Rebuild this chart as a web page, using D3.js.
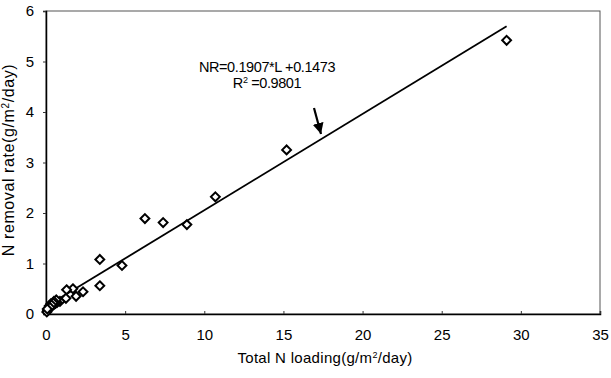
<!DOCTYPE html>
<html>
<head>
<meta charset="utf-8">
<script src="https://cdn.jsdelivr.net/npm/d3@7"></script>
<style>
  body { margin: 0; background: #fff; }
  text { font-family: "Liberation Sans", Arial, sans-serif; fill: #000; }
</style>
</head>
<body>
<script>
// Measured points: total N loading vs N removal rate
const loading = [29.1, 15.2, 10.7, 8.9, 7.4, 6.25, 4.8, 3.4, 3.4, 2.34, 1.9, 1.7, 1.3, 1.26,
  0.88, 0.7, 0.6, 0.5, 0.4, 0.3, 0.2, 0.15, 0.1, 0.05, 0.65, 0.5, 0.3, 0.2, 0.45, 0.35, 0.25, 0.08];
const removal = [5.42, 3.25, 2.32, 1.77, 1.81, 1.89, 0.96, 1.08, 0.56, 0.44, 0.35, 0.5, 0.48, 0.31,
  0.25, 0.23, 0.21, 0.19, 0.17, 0.14, 0.11, 0.09, 0.07, 0.04, 0.28, 0.25, 0.2, 0.16, 0.22, 0.18, 0.13, 0.1];
const xTicks = [0, 5, 10, 15, 20, 25, 30, 35];
const yTicks = [0, 1, 2, 3, 4, 5, 6];
const slope = 0.1907, intercept = 0.1473;
const fitRange = [0, 29.1];

const w = 611, h = 378;
const margin = { top: 11, right: 11, bottom: 64, left: 46 };
const tickFont = "'Liberation Sans Narrow', 'Liberation Sans', Arial, sans-serif";

const svg = d3.select("body").append("svg")
  .attr("width", w)
  .attr("height", h);

const x = d3.scaleLinear().domain([0, 35]).range([margin.left, w - margin.right]);
const y = d3.scaleLinear().domain([0, 6]).range([h - margin.bottom, margin.top]);

// frame (top / right)
svg.append("rect")
  .attr("x", x(0)).attr("y", y(6))
  .attr("width", x(35) - x(0)).attr("height", y(0) - y(6))
  .attr("fill", "none").attr("stroke", "#555").attr("stroke-width", 1);

// axes
const xAxis = svg.append("g")
  .attr("transform", `translate(0,${y(0)})`)
  .call(d3.axisBottom(x).tickValues(xTicks).tickFormat(d3.format("d")).tickSize(-3).tickPadding(15));
const yAxis = svg.append("g")
  .attr("transform", `translate(${x(0)},0)`)
  .call(d3.axisLeft(y).tickValues(yTicks).tickFormat(d3.format("d")).tickSize(3).tickPadding(9));
[xAxis, yAxis].forEach(g => {
  g.select(".domain").attr("stroke", "#000").attr("stroke-width", 1.5);
  g.selectAll(".tick line").attr("stroke", "#333");
  g.selectAll(".tick text")
    .style("font-family", tickFont)
    .style("font-size", "15px")
    .attr("fill", "#000");
});

// regression line
svg.append("line")
  .attr("x1", x(fitRange[0])).attr("y1", y(slope * fitRange[0] + intercept))
  .attr("x2", x(fitRange[1])).attr("y2", y(slope * fitRange[1] + intercept))
  .attr("stroke", "#000").attr("stroke-width", 1.8);

// diamonds
const pts = loading.map((v, i) => [v, removal[i]]);
svg.selectAll(".pt")
  .data(pts)
  .enter()
  .append("path")
  .attr("class", "pt")
  .attr("d", d3.symbol().type(d3.symbolDiamond2).size(50))
  .attr("transform", d => `translate(${x(d[0])},${y(d[1])})`)
  .attr("fill", "#fff")
  .attr("stroke", "#000")
  .attr("stroke-width", 2);

// equation
svg.append("text")
  .attr("x", 267).attr("y", 72)
  .attr("text-anchor", "middle")
  .style("font-size", "14.5px")
  .style("letter-spacing", "-0.4px")
  .text("NR=0.1907*L +0.1473");
const r2 = svg.append("text")
  .attr("x", 267).attr("y", 88)
  .attr("text-anchor", "middle")
  .style("font-size", "14.5px")
  .style("letter-spacing", "-0.4px");
r2.append("tspan").text("R");
r2.append("tspan").attr("dy", -5).style("font-size", "9px").text("2");
r2.append("tspan").attr("dy", 5).text(" =0.9801");

// arrow
svg.append("defs").append("marker")
  .attr("id", "head")
  .attr("viewBox", "0 0 10 10")
  .attr("refX", 10).attr("refY", 5)
  .attr("markerWidth", 5).attr("markerHeight", 5)
  .attr("orient", "auto")
  .append("path").attr("d", "M0,0L10,5L0,10z").attr("fill", "#000");
svg.append("line")
  .attr("x1", 314).attr("y1", 108)
  .attr("x2", 321).attr("y2", 134)
  .attr("stroke", "#000").attr("stroke-width", 2.2)
  .attr("marker-end", "url(#head)");

// axis titles
const xt = svg.append("text")
  .attr("x", 325).attr("y", 363)
  .attr("text-anchor", "middle")
  .style("font-size", "15px")
  .style("letter-spacing", "0.3px");
xt.append("tspan").text("Total N loading(g/m");
xt.append("tspan").attr("dy", -5).style("font-size", "9px").text("2");
xt.append("tspan").attr("dy", 5).text("/day)");

const yt = svg.append("text")
  .attr("transform", `translate(14,160) rotate(-90)`)
  .attr("text-anchor", "middle")
  .style("font-size", "16px")
  .style("letter-spacing", "0.6px");
yt.append("tspan").text("N removal rate(g/m");
yt.append("tspan").attr("dy", -5).style("font-size", "10px").text("2");
yt.append("tspan").attr("dy", 5).text("/day)");
</script>
</body>
</html>
